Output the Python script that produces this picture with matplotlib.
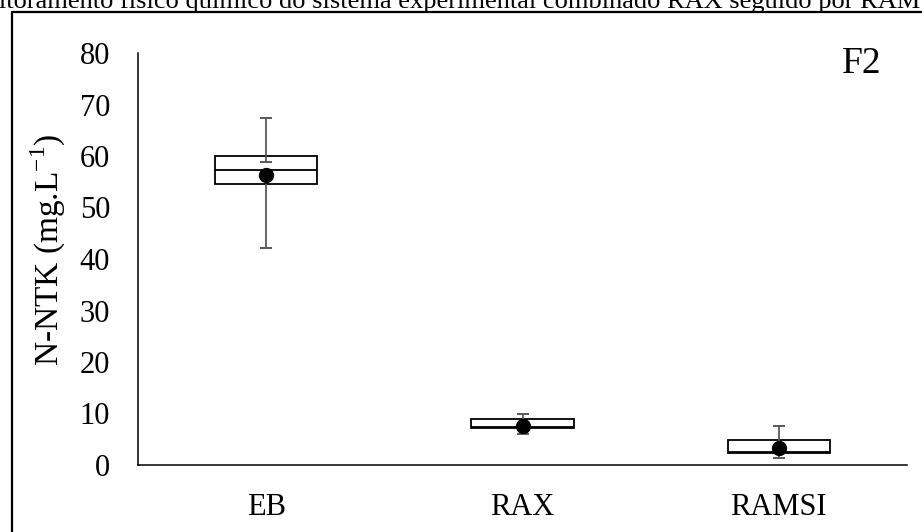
import matplotlib
matplotlib.use("Agg")
from matplotlib import pyplot as plt
from matplotlib.lines import Line2D
import numpy as np

# box chart values (mg/L)
categories = ["EB", "RAX", "RAMSI"]
q1 = [54.6, 7.1, 2.3]
median = [57.3, 7.4, 2.6]
q3 = [60.0, 8.9, 4.85]
mean = [56.4, 7.6, 3.3]
upper_from = [58.9, 7.6, 3.3]
whisker_hi = [67.4, 10.0, 7.6]
whisker_lo = [42.2, 6.0, 1.4]

y_ticks = [0, 10, 20, 30, 40, 50, 60, 70, 80]
title = "Monitoramento físico químico do sistema experimental combinado RAX seguido por RAMSI"

plt.rcParams["font.family"] = ["Liberation Serif", "DejaVu Serif"]
plt.rcParams["mathtext.fontset"] = "custom"
plt.rcParams["mathtext.rm"] = "Liberation Serif"

fig = plt.figure(figsize=(9.22, 5.32), dpi=100)
ax = fig.add_axes([138 / 922, 67 / 532, 769 / 922, 412 / 532])

x = np.arange(len(categories))
q1 = np.array(q1)
q3 = np.array(q3)

# boxes
ax.bar(x, q3 - q1, bottom=q1, width=0.4, color="white", edgecolor="black",
       linewidth=1.3, zorder=2)
ax.hlines(median, x - 0.2, x + 0.2, color="black", linewidth=1.3, zorder=3)

# whiskers
grey = "#595959"
ax.vlines(x, upper_from, whisker_hi, color=grey, linewidth=1.3, zorder=4)
ax.vlines(x, q1, whisker_lo, color=grey, linewidth=1.3, zorder=4)
for ends in (upper_from, whisker_hi, whisker_lo):
    ax.plot(x, ends, linestyle="none", marker="_", markersize=9,
            markeredgewidth=1.4, color=grey, zorder=4)

# mean points
ax.plot(x, mean, linestyle="none", marker="o", markersize=10, color="black",
        zorder=5)

ax.set_xlim(-0.5, 2.5)
ax.set_ylim(0, 80)
ax.set_yticks(y_ticks)
ax.set_xticks(x)
ax.set_xticklabels(categories)
ax.tick_params(axis="both", length=0, labelsize=22)
ax.tick_params(axis="y", pad=20)
ax.tick_params(axis="x", pad=20)
for side in ("top", "right"):
    ax.spines[side].set_visible(False)
for side in ("left", "bottom"):
    ax.spines[side].set_linewidth(1.1)

fig.text(48 / 922, 1 - 250 / 532, r"N-NTK (mg.L$^{\mathregular{-1}}$)",
         rotation=90, ha="center", va="center", fontsize=24)
ax.text(0.967, 0.975, "F2", transform=ax.transAxes, ha="right", va="center",
        fontsize=27)

# clipped caption above the frame
fig.text(0.484, 1 - 8 / 532, title, ha="center", va="baseline", fontsize=19)

# outer frame, running off the right and bottom edges
fx = 12 / 922
fy = 1 - 12 / 532
fig.add_artist(Line2D([fx, fx, 1.01], [-0.01, fy, fy], color="black",
                      linewidth=1.6, transform=fig.transFigure))

fig.savefig("out.png", dpi=100)
